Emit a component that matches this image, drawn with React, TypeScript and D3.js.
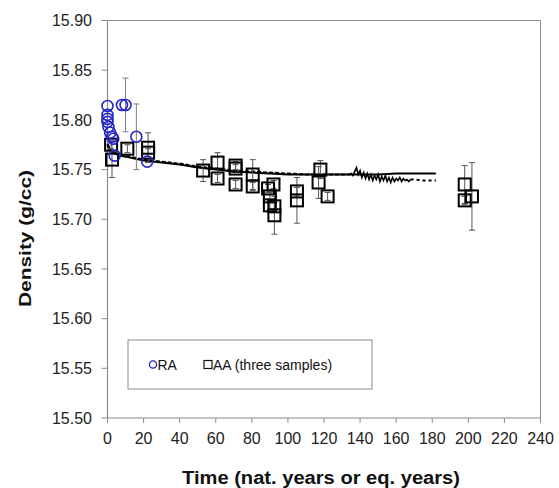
import React from "react";
import * as d3 from "d3";

const X_TICKS = [0, 20, 40, 60, 80, 100, 120, 140, 160, 180, 200, 220, 240];
const Y_TICKS = [15.5, 15.55, 15.6, 15.65, 15.7, 15.75, 15.8, 15.85, 15.9];

// RA (circles)
const RA_T = [0, 0, 0, 0, 0.5, 1.5, 2.5, 3.2, 4, 8, 10, 16, 22];
const RA_D = [15.814, 15.805, 15.801, 15.798, 15.793, 15.787, 15.783, 15.781, 15.764, 15.815, 15.815, 15.783, 15.758];
const RA_ERR = [0, 0, 0, 0, 0, 0, 0, 0, 0, 0, 0.027, 0.033, 0];

// AA (squares, three samples)
const AA_T = [2, 2.5, 11, 22.5, 22.5, 53, 61, 61, 71, 71, 71, 80.5, 80.5, 89, 92, 90, 90, 92.5, 92.5, 105, 105, 118, 117, 122, 198, 198, 202];
const AA_D = [15.775, 15.76, 15.771, 15.772, 15.767, 15.749, 15.757, 15.741, 15.754, 15.751, 15.735, 15.745, 15.733, 15.731, 15.735, 15.723, 15.714, 15.713, 15.704, 15.728, 15.719, 15.75, 15.737, 15.723, 15.735, 15.719, 15.723];
const AA_ERR = [0.004, 0.018, 0.004, 0.015, 0.004, 0.011, 0.01, 0.004, 0.004, 0.004, 0.004, 0.015, 0.004, 0.004, 0.004, 0.004, 0.004, 0.004, 0.019, 0.004, 0.023, 0.009, 0.016, 0.004, 0.019, 0.004, 0.034];

// model curve 1 (solid)
const FIT_T = [0, 1, 2, 4, 7, 10, 15, 20, 30, 40, 50, 60, 70, 80, 90, 100, 110, 120, 130, 140, 150, 160, 170, 182];
const FIT_D = [15.775, 15.771, 15.768, 15.766, 15.764, 15.763, 15.761, 15.759, 15.757, 15.755, 15.752, 15.75, 15.748, 15.747, 15.746, 15.745, 15.745, 15.745, 15.745, 15.745, 15.745, 15.746, 15.746, 15.746];

// model curve 2 (dashed, noisy at late times)
const FIT2_T = [0, 1, 2, 4, 7, 10, 15, 20, 30, 40, 50, 60, 70, 80, 90, 100, 110, 120, 130, 134,
  135, 136, 137, 138, 139, 140, 141, 142, 143, 144, 145, 146, 147, 148, 149, 150, 151, 152, 153, 154, 155, 156, 157, 158, 159, 160, 161, 162, 163, 164, 165, 166, 167, 168,
  170, 175, 182];
const FIT2_D = [15.776, 15.772, 15.769, 15.767, 15.765, 15.764, 15.762, 15.76, 15.758, 15.756, 15.753, 15.751, 15.749, 15.748, 15.747, 15.746, 15.745, 15.745, 15.745, 15.745,
  15.746, 15.744, 15.748, 15.752, 15.745, 15.749, 15.742, 15.747, 15.741, 15.746, 15.74, 15.745, 15.739, 15.744, 15.74, 15.745, 15.738, 15.743, 15.739, 15.744, 15.738, 15.742, 15.737, 15.742, 15.738, 15.741, 15.739, 15.742, 15.738, 15.741, 15.739, 15.74, 15.738, 15.74,
  15.74, 15.739, 15.739];
const NOISE_START = 134;
const NOISE_END = 168;

const W = 559;
const H = 488;
const FONT = "Arial, 'Liberation Sans', sans-serif";

export default function App() {
  const x = d3.scaleLinear().domain([0, 240]).range([107.5, 540.5]);
  const y = d3.scaleLinear().domain([15.5, 15.9]).range([418, 20.5]);
  const axisColor = "#8c8c8c";

  const line = d3
    .line<[number, number]>()
    .x((d) => x(d[0]))
    .y((d) => y(d[1]));

  const fit1 = FIT_T.map((t, i) => [t, FIT_D[i]] as [number, number]);
  const fit2 = FIT2_T.map((t, i) => [t, FIT2_D[i]] as [number, number]);
  const fit2a = fit2.filter((p) => p[0] <= NOISE_START);
  const fit2n = fit2.filter((p) => p[0] >= NOISE_START && p[0] <= NOISE_END);
  const fit2b = fit2.filter((p) => p[0] >= NOISE_END);

  const errBar = (cx: number, d: number, e: number, color: string, key: string) => {
    if (!e) return null;
    const y1 = y(d + e);
    const y2 = y(d - e);
    return (
      <g key={key} stroke={color} strokeWidth={1}>
        <line x1={cx} x2={cx} y1={y1} y2={y2} />
        <line x1={cx - 3} x2={cx + 3} y1={y1} y2={y1} />
        <line x1={cx - 3} x2={cx + 3} y1={y2} y2={y2} />
      </g>
    );
  };

  const sq = 12;

  return (
    <svg width={W} height={H} style={{ position: "absolute", left: 0, top: 0, background: "#fff" }} fontFamily={FONT}>
      <rect x={0} y={0} width={W} height={H} fill="#fff" />
      {/* plot border */}
      <line x1={x(0)} x2={x(240)} y1={y(15.9)} y2={y(15.9)} stroke={axisColor} strokeWidth={1} />
      <line x1={x(240)} x2={x(240)} y1={y(15.9)} y2={y(15.5)} stroke={axisColor} strokeWidth={1} />
      {/* axes */}
      <line x1={x(0)} x2={x(0)} y1={y(15.9)} y2={y(15.5)} stroke={axisColor} strokeWidth={1.2} />
      <line x1={x(0)} x2={x(240)} y1={y(15.5)} y2={y(15.5)} stroke={axisColor} strokeWidth={1.2} />
      {Y_TICKS.map((v) => (
        <g key={"yt" + v}>
          <line x1={x(0) - 6} x2={x(0)} y1={y(v)} y2={y(v)} stroke={axisColor} strokeWidth={1} />
          <text x={92} y={y(v)} dy="0.36em" textAnchor="end" fontSize={16} fill="#222">
            {v.toFixed(2)}
          </text>
        </g>
      ))}
      {X_TICKS.map((v) => (
        <g key={"xt" + v}>
          <line x1={x(v)} x2={x(v)} y1={y(15.5)} y2={y(15.5) + 5} stroke={axisColor} strokeWidth={1} />
          <text x={x(v)} y={443.5} textAnchor="middle" fontSize={16} fill="#222">
            {v}
          </text>
        </g>
      ))}
      {/* axis titles */}
      <text x={321} y={484} textAnchor="middle" fontSize={17.5} fontWeight="bold" fill="#111" textLength={278} lengthAdjust="spacingAndGlyphs">
        Time (nat. years or eq. years)
      </text>
      <text
        transform={`translate(31,238.5) rotate(-90)`}
        textAnchor="middle"
        fontSize={17}
        fontWeight="bold"
        fill="#111"
        textLength={137}
        lengthAdjust="spacingAndGlyphs"
      >
        Density (g/cc)
      </text>

      {/* model curves */}
      <path d={line(fit1) || ""} fill="none" stroke="#000" strokeWidth={2} />
      <path d={line(fit2a) || ""} fill="none" stroke="#000" strokeWidth={2} strokeDasharray="4,2" />
      <path d={line(fit2n) || ""} fill="none" stroke="#000" strokeWidth={1.6} />
      <path d={line(fit2b) || ""} fill="none" stroke="#000" strokeWidth={2} strokeDasharray="3,3" />

      {/* AA error bars + squares */}
      {AA_T.map((t, i) => errBar(x(t), AA_D[i], AA_ERR[i], "#555", "ae" + i))}
      {AA_T.map((t, i) => (
        <rect
          key={"as" + i}
          x={x(t) - sq / 2}
          y={y(AA_D[i]) - sq / 2}
          width={sq}
          height={sq}
          fill="none"
          stroke="#000"
          strokeWidth={2}
        />
      ))}

      {/* RA error bars + circles */}
      {RA_T.map((t, i) => errBar(x(t) + (RA_ERR[i] ? 0 : 0), RA_D[i], RA_ERR[i], "#7a7a9a", "re" + i))}
      {RA_T.map((t, i) => (
        <circle key={"rc" + i} cx={x(t)} cy={y(RA_D[i])} r={5.5} fill="none" stroke="#2424c8" strokeWidth={1.6} />
      ))}

      {/* legend */}
      <rect x={128} y={340} width={244} height={49} fill="#fff" stroke="#8c8c8c" strokeWidth={1} />
      <circle cx={153} cy={364.5} r={3.6} fill="none" stroke="#2424c8" strokeWidth={1.3} />
      <text x={157.5} y={364.5} dy="0.36em" fontSize={14} fill="#111">
        RA
      </text>
      <rect x={204} y={360.5} width={8} height={8} fill="none" stroke="#111" strokeWidth={1.2} />
      <text x={213} y={364.5} dy="0.36em" fontSize={14} fill="#111">
        AA (three samples)
      </text>
    </svg>
  );
}
